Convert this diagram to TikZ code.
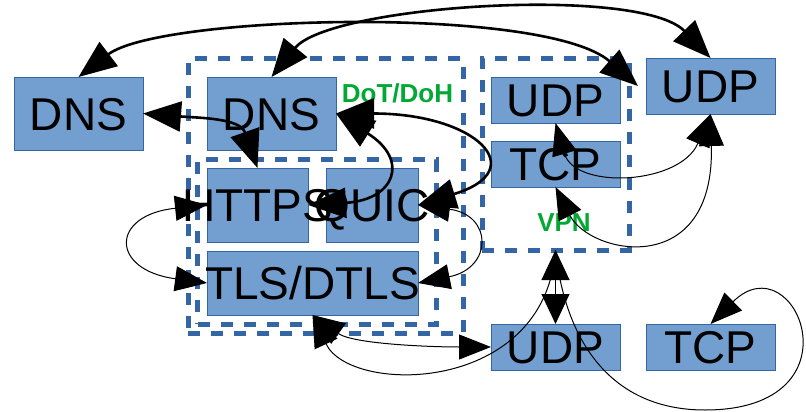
\documentclass[tikz,border=0pt]{standalone}
\usepackage{fontspec}
\setmainfont{Liberation Sans}
\usetikzlibrary{arrows.meta}
\definecolor{boxfill}{HTML}{729FCF}
\definecolor{boxline}{HTML}{3465A4}
\definecolor{tagGreen}{HTML}{00A933}

\begin{document}
\begin{tikzpicture}[x=1pt,y=-1pt,
  proto/.style={draw=boxline, line width=0.8pt, fill=boxfill, inner sep=0pt, outer sep=0pt},
  grp/.style={draw=boxline, line width=5pt, dash pattern=on 12pt off 11pt, inner sep=0pt, outer sep=0pt},
  word/.style={font=\fontsize{46}{55}\selectfont, inner sep=0pt, anchor=base, yshift=-16.5pt},
  tag/.style={font=\fontsize{26}{31}\selectfont\bfseries, text=tagGreen, inner sep=0pt, anchor=base},
  bigtip/.tip={Triangle[length=38pt,width=30pt]},
  thintip/.tip={Triangle[length=32pt,width=25pt]},
  vtip/.tip={Triangle[length=30pt,width=28pt]},
  heavy/.style={line width=2.6pt, {bigtip}-{bigtip}},
  light/.style={line width=1pt, {thintip}-{thintip}},
]
\useasboundingbox (0,0) rectangle (806,412);
\fill[white] (0,0) rectangle (806,412);
\clip (0,0) rectangle (806,412);

% dashed groups
\node[grp, minimum width=275pt, minimum height=274pt] (outer) at (325.5,196) {};
\node[grp, minimum width=238.5pt, minimum height=164.5pt] (inner) at (316.75,241.75) {};
\node[grp, minimum width=147pt, minimum height=191pt] (vpn) at (555.5,154.5) {};

% protocol boxes
\node[proto, minimum width=129pt, minimum height=73pt] (dnsL) at (78.5,113.5) {};
\node[proto, minimum width=129pt, minimum height=73pt] (dnsC) at (271.5,113.5) {};
\node[proto, minimum width=101pt, minimum height=74pt] (https) at (257.5,205) {};
\node[proto, minimum width=92pt, minimum height=74pt] (quic) at (372,205) {};
\node[proto, minimum width=211pt, minimum height=64pt] (tls) at (312.5,283) {};
\node[proto, minimum width=129pt, minimum height=46pt] (udpV) at (555.5,100) {};
\node[proto, minimum width=129pt, minimum height=46pt] (tcpV) at (555.5,164) {};
\node[proto, minimum width=129pt, minimum height=56pt] (udpR) at (710.5,86) {};
\node[proto, minimum width=129pt, minimum height=46pt] (udpB) at (555.5,347) {};
\node[proto, minimum width=129pt, minimum height=46pt] (tcpB) at (710.5,347) {};

% box texts
\node[word] (dnsLt) at (dnsL.center) {DNS};
\node[word] (dnsCt) at (dnsC.center) {DNS};
\node[word] (httpst) at (https.center) {HTTPS};
\node[word] (quict) at (quic.center) {QUIC};
\node[word] (tlst) at (tls.center) {TLS/DTLS};
\node[word] (udpVt) at (udpV.center) {UDP};
\node[word] (tcpVt) at (tcpV.center) {TCP};
\node[word] (udpRt) at (udpR.center) {UDP};
\node[word] (udpBt) at (udpB.center) {UDP};
\node[word] (tcpBt) at (tcpB.center) {TCP};

% group tags
\node[tag] (dot) at (397.5,102.5) {DoT/DoH};
\node[tag] (vpnt) at (564,231.5) {VPN};

% heavy connectors
\draw[heavy] (dnsL.north) .. controls +(81.5,-62) and +(-93,-81) .. ([xshift=-8pt]udpR.west);
\draw[heavy] (dnsC.north) .. controls +(58.5,-72) and +(-70.5,-73) .. (udpR.north);
\draw[heavy] (dnsL.east) .. controls +(57,4.5) and +(-17.5,-50) .. (https.north);
\draw[heavy] (dnsC.east) .. controls +(140,0) and +(115,-35) .. (quic.east);
\draw[heavy] (dnsC.east) .. controls +(74,46.5) and +(87,-5) .. (https.east);

% light connectors
\draw[light] (https.west) .. controls +(-97,10) and +(-97,-13) .. (tls.west);
\draw[light] (quic.east) .. controls +(75,10) and +(75,-15) .. (tls.east);
\draw[light] (tls.south) .. controls +(40.5,29) and +(-61,0) .. (udpB.west);
\draw[line width=1pt, {thintip}-] (tls.south) .. controls +(37.5,80) and +(-10.5,145) .. (vpn.south);
\draw[line width=1pt, {vtip}-{vtip}] (vpn.south) -- (udpB.north);
\coordinate (kLow) at (705,410);
\draw[line width=1pt, -{thintip}] (vpn.south) .. controls +(9.5,90) and +(-95,0) .. (kLow)
  .. controls +(160,0) and +(85,-84) .. (tcpB.north);
\draw[light] (udpV.south) .. controls +(19.5,67) and +(-30.5,71) .. (udpR.south);
\draw[light] (tcpV.south) .. controls +(34.5,68) and +(4.5,166) .. (udpR.south);
\end{tikzpicture}
\end{document}
